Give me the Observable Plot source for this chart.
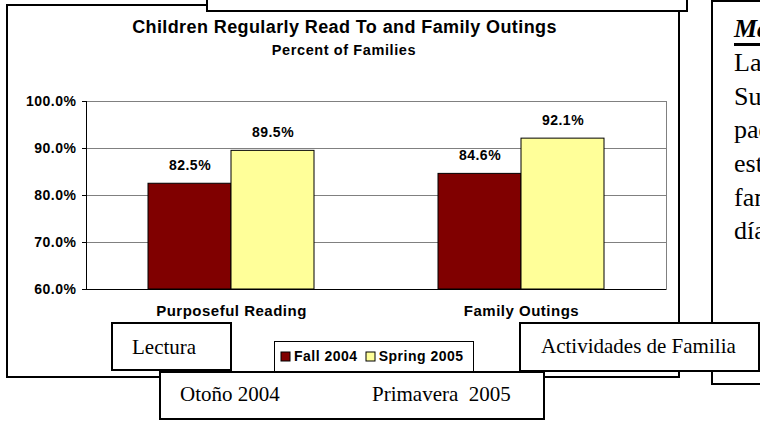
<!DOCTYPE html>
<html>
<head>
<meta charset="utf-8">
<script src="https://cdn.jsdelivr.net/npm/d3@7"></script>
<script src="https://cdn.jsdelivr.net/npm/@observablehq/plot@0.6"></script>
<style>
  html, body { margin: 0; padding: 0; background: #fff; overflow: hidden; width: 760px; height: 424px; }
  #stage { position: relative; width: 760px; height: 424px; overflow: hidden; background: #fff; }
  .box { position: absolute; box-sizing: border-box; background: #fff; border: 2px solid #000; }
  .t { position: absolute; white-space: pre; line-height: 1; color: #000; }
  .serif { font-family: "Liberation Serif", "Times New Roman", serif; }
  .sans { font-family: "Liberation Sans", Arial, sans-serif; font-weight: bold; }
  #legendbox svg rect { stroke: #000; stroke-width: 1px; }
  #legendbox span > svg { margin-right: 4px !important; }
  #legendbox span { margin-right: 8px !important; }
</style>
</head>
<body>
<div id="stage"></div>
<script>
// ---- data ----
const categories = ["Purposeful Reading", "Family Outings"];
const seriesNames = ["Fall 2004", "Spring 2005"];
const fall2004 = [82.5, 84.6];
const spring2005 = [89.5, 92.1];
const yTicks = [60, 70, 80, 90, 100];
const seriesColors = ["#800000", "#FFFF99"];
const chartTitle = "Children Regularly Read To and Family Outings";
const chartSubtitle = "Percent of Families";
const categoryLabelsEs = ["Lectura", "Actividades de Familia"];
const seriesLabelsEs = ["Otoño 2004", "Primavera  2005"];
const noteHeading = "Más lectura en familia";
const noteLines = ["La encuesta de", "Sus hijos leen", "padres y", "estudiantes", "familias", "días"];

const rows = categories.flatMap((c, i) => [
  {category: c, series: seriesNames[0], value: fall2004[i]},
  {category: c, series: seriesNames[1], value: spring2005[i]}
]);
const fmt = d => d.toFixed(1) + "%";
const sansFont = "'Liberation Sans', Arial, sans-serif";

const stage = document.getElementById("stage");

function box(left, top, width, height, z, extra) {
  const d = document.createElement("div");
  d.className = "box";
  Object.assign(d.style, {left: left + "px", top: top + "px", width: width + "px", height: height + "px", zIndex: z}, extra || {});
  stage.append(d);
  return d;
}
function label(text, x, baseline, size, cls, z, extra, center) {
  const s = document.createElement("div");
  s.className = "t " + cls;
  s.textContent = text;
  const k = cls === "serif" ? 0.8373 : 0.8465;
  Object.assign(s.style, {top: (baseline - k * size) + "px", fontSize: size + "px", zIndex: z}, extra || {});
  if (center != null) {
    Object.assign(s.style, {left: (center - 400) + "px", width: "800px", textAlign: "center"});
  } else {
    s.style.left = x + "px";
  }
  stage.append(s);
  return s;
}

// chart frame
box(6, 4, 674, 374, 1);

// plot
const chart = Plot.plot({
  width: 760,
  height: 424,
  marginLeft: 85,
  marginRight: 94,
  marginTop: 101,
  marginBottom: 135,
  style: {
    background: "transparent",
    fontFamily: sansFont,
    fontSize: "14px",
    fontWeight: "bold",
    letterSpacing: "0.5px",
    color: "#000",
    position: "absolute",
    left: "0px",
    top: "0px",
    zIndex: 2,
    overflow: "visible"
  },
  fx: {domain: categories, padding: 0},
  x: {domain: seriesNames, paddingInner: 0, paddingOuter: 0.729, axis: null},
  y: {domain: [yTicks[0], yTicks[yTicks.length - 1]]},
  color: {domain: seriesNames, range: seriesColors},
  marks: [
    Plot.gridY(yTicks, {stroke: "#808080", strokeOpacity: 1}),
    Plot.barY(rows, {fx: "category", x: "series", y1: yTicks[0], y2: "value", fill: "series", stroke: "#000", strokeWidth: 1}),
    Plot.ruleY([yTicks[0]], {stroke: "#000"}),
    Plot.frame({anchor: "left", facetAnchor: "left", stroke: "#000"}),
    Plot.frame({anchor: "right", facetAnchor: "right", stroke: "#808080"}),
    Plot.axisY(yTicks, {anchor: "left", tickSize: 4, tickPadding: 6, tickFormat: fmt, label: null}),
    Plot.axisFx({anchor: "bottom", tickSize: 0, tickPadding: 16, label: null, fontSize: 15}),
    Plot.text(rows, {fx: "category", x: "series", y: "value", text: d => fmt(d.value), dy: -18, fontSize: 14})
  ]
});
stage.append(chart);

// title & subtitle
label(chartTitle, 0, 33, 18, "sans", 3, {letterSpacing: "0.4px"}, 344.5);
label(chartSubtitle, 0, 55, 14.5, "sans", 3, {letterSpacing: "0.6px"}, 344);

// top overlapping box
box(206, -10, 482, 22, 3);

// legend box
const lb = box(274, 341, 200, 40, 4, {border: "1px solid #000"});
lb.id = "legendbox";
const legend = Plot.legend({
  color: {domain: seriesNames, range: seriesColors},
  legend: "swatches",
  swatchSize: 9,
  style: {
    fontFamily: sansFont, fontSize: "14px", fontWeight: "bold", letterSpacing: "0.5px",
    color: "#000", minHeight: "0px", margin: "0px", lineHeight: "14px",
    position: "absolute", left: "6px", top: "7px", flexWrap: "nowrap", whiteSpace: "nowrap"
  }
});
lb.append(legend);

// Spanish labels
box(111, 322, 121, 49, 5);
label(categoryLabelsEs[0], 132, 355, 21, "serif", 6);

// right note box (continues past the right edge of the page, as in the reference)
box(711, 0, 70, 385, 5);
label(noteHeading, 734, 38, 26, "serif", 6, {fontWeight: "bold", fontStyle: "italic", textDecoration: "underline", textDecorationThickness: "3px", textUnderlineOffset: "6px"});
noteLines.forEach((line, i) => label(line, 734, 72 + i * 33.6, 26, "serif", 6));

box(519, 322, 241, 50, 7);
label(categoryLabelsEs[1], 541, 354, 21, "serif", 8);

box(159, 371, 386, 49, 9);
label(seriesLabelsEs[0], 180, 402, 21, "serif", 10);
label(seriesLabelsEs[1], 372, 402, 21, "serif", 10);
</script>
</body>
</html>
